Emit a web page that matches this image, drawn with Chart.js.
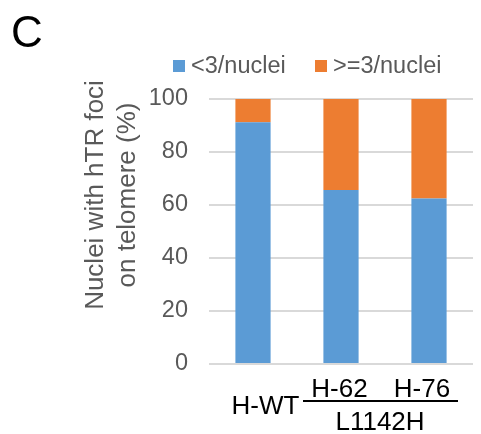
<!DOCTYPE html>
<html>
<head>
<meta charset="utf-8">
<script src="https://cdn.jsdelivr.net/npm/chart.js@4/dist/chart.umd.min.js"></script>
<style>
  html, body { margin: 0; padding: 0; background: #fff; }
  #wrap { width: 481px; height: 434px; position: relative; }
</style>
</head>
<body>
<div id="wrap"><canvas id="fociChart" width="481" height="434"></canvas></div>
<script>
// data
const groups = ['H-WT', 'H-62', 'H-76'];
const seriesNames = ['<3/nuclei', '>=3/nuclei'];
const lessThan3 = [91.2, 65.7, 62.5];
const atLeast3 = [8.8, 34.3, 37.5];
const yTicks = [0, 20, 40, 60, 80, 100];
const groupLabel = 'L1142H';

const FONT = '"Liberation Sans", Arial, sans-serif';
const blue = '#5B9BD5';
const orange = '#ED7D31';

// panel letter, y title, legend and the two-level x labels
const decorations = {
    id: 'decorations',
    afterDraw(chart) {
        const ctx = chart.ctx;
        const x = chart.scales.x;
        ctx.save();

        ctx.fillStyle = '#000';
        ctx.font = '44px ' + FONT;
        ctx.textAlign = 'left';
        ctx.textBaseline = 'alphabetic';
        ctx.fillText('C', 11, 47);

        // y axis title, two lines
        ctx.save();
        ctx.translate(103, 195);
        ctx.rotate(-Math.PI / 2);
        ctx.fillStyle = '#595959';
        ctx.font = '26px ' + FONT;
        ctx.textAlign = 'center';
        ctx.fillText('Nuclei with hTR foci', 0, 0);
        ctx.fillText('on telomere (%)', 0, 32);
        ctx.restore();

        // legend
        ctx.font = '23.5px ' + FONT;
        ctx.textAlign = 'left';
        const legendX = [173, 315];
        chart.data.datasets.forEach((ds, i) => {
            ctx.fillStyle = ds.backgroundColor;
            ctx.fillRect(legendX[i], 60, 12, 12);
            ctx.fillStyle = '#595959';
            ctx.fillText(ds.label, legendX[i] + 18, 73);
        });

        // category labels
        ctx.fillStyle = '#000';
        ctx.font = '26px ' + FONT;
        ctx.textAlign = 'center';
        const c0 = x.getPixelForValue(0);
        const c1 = x.getPixelForValue(1);
        const c2 = x.getPixelForValue(2);
        ctx.fillText(groups[0], c0 + 12.5, 414);
        ctx.fillText(groups[1], c1 - 1.5, 397);
        ctx.fillText(groups[2], c2 - 7, 397);

        ctx.strokeStyle = '#000';
        ctx.lineWidth = 2;
        ctx.beginPath();
        ctx.moveTo(303, 401);
        ctx.lineTo(458, 401);
        ctx.stroke();

        ctx.fillText(groupLabel, 380, 430);
        ctx.restore();
    }
};

new Chart(document.getElementById('fociChart'), {
    type: 'bar',
    data: {
        labels: groups,
        datasets: [
            { label: seriesNames[0], data: lessThan3, backgroundColor: blue },
            { label: seriesNames[1], data: atLeast3, backgroundColor: orange }
        ]
    },
    options: {
        responsive: false,
        animation: false,
        devicePixelRatio: 1,
        layout: { padding: { top: 99, bottom: 70, right: 8, left: 0 } },
        datasets: { bar: { categoryPercentage: 1, barPercentage: 0.4 } },
        scales: {
            x: {
                display: false,
                stacked: true
            },
            y: {
                stacked: true,
                min: 0,
                max: 100,
                afterBuildTicks: axis => { axis.ticks = yTicks.map(v => ({ value: v })); },
                afterFit: axis => { axis.width = 209; },
                border: { display: false },
                grid: { color: '#d9d9d9', lineWidth: 2, drawTicks: false },
                ticks: {
                    padding: 21,
                    color: '#595959',
                    font: { family: FONT, size: 23.5 }
                }
            }
        },
        plugins: {
            legend: { display: false },
            tooltip: { enabled: false }
        }
    },
    plugins: [decorations]
});
</script>
</body>
</html>
